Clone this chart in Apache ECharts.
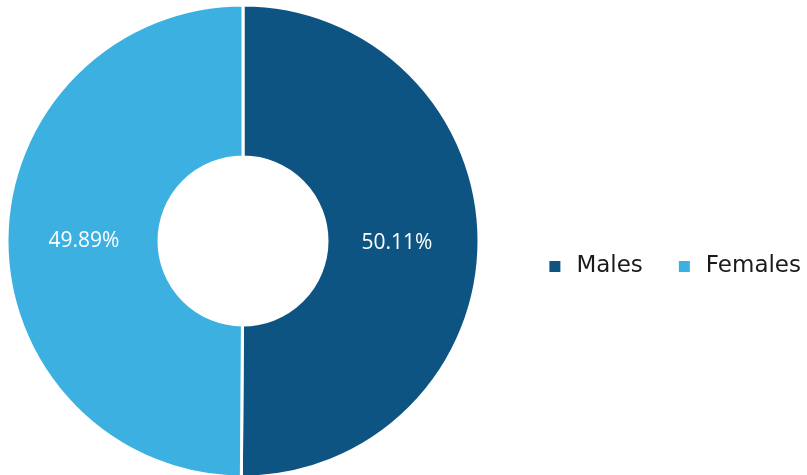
<!DOCTYPE html>
<html><head><meta charset="utf-8">
<script src="https://cdn.jsdelivr.net/npm/echarts@6/dist/echarts.min.js"></script>
<style>html,body{margin:0;padding:0;background:#fff}#c{width:807px;height:475px}</style>
</head><body><div id="c"></div>
<script>
const categories = ['Males', 'Females'];
const values = [50.11, 49.89];
const colors = ['#0e5482', '#3cb0e1'];
const labelShift = [[-9, 1], [4, 1]];
const chart = echarts.init(document.getElementById('c'));
chart.setOption({
  animation: false,
  color: colors,
  legend: {
    data: categories,
    orient: 'horizontal',
    right: 1,
    top: 250,
    icon: 'rect',
    itemWidth: 13,
    itemHeight: 13,
    itemGap: 34,
    textStyle: { fontFamily: 'DejaVu Sans', fontSize: 23, color: '#1a1a1a', padding: [0, 0, 0, 10] }
  },
  series: [{
    type: 'pie',
    center: [243, 241],
    radius: [84, 236],
    startAngle: 90,
    clockwise: true,
    itemStyle: { borderColor: '#fff', borderWidth: 3 },
    label: {
      position: 'inside',
      formatter: '{c}%',
      color: '#fff',
      fontFamily: 'Open Sans',
      fontSize: 21
    },
    labelLine: { show: false },
    data: categories.map((n, i) => ({ name: n, value: values[i], label: { offset: labelShift[i] } }))
  }]
});
</script></body></html>
